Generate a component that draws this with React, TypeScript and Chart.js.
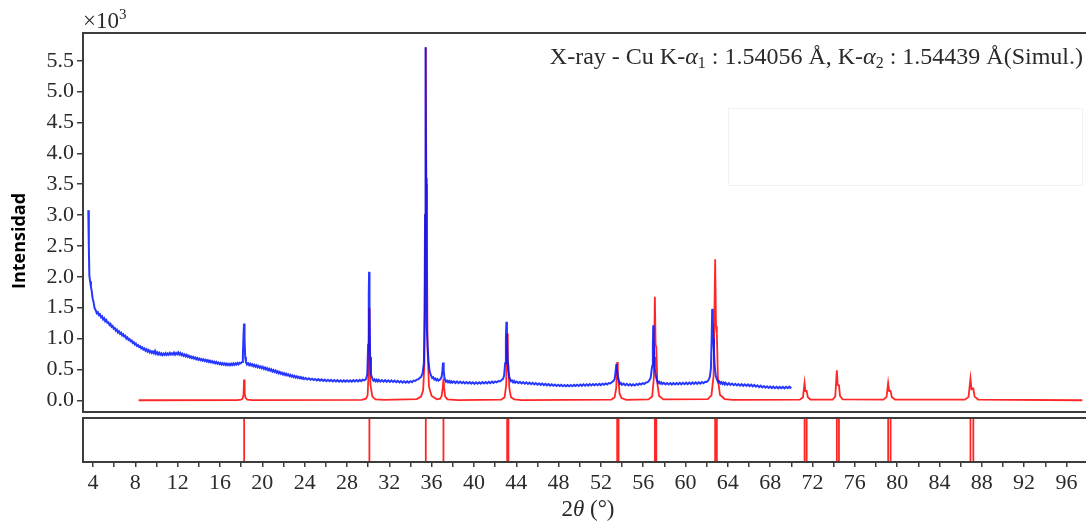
import React, { useEffect, useRef } from "react";
import { Chart, registerables } from "chart.js";

Chart.register(...registerables);

// ---------- axis ranges & ticks ----------
const X_MIN = 3.05;
const X_MAX = 97.85;
const Y_MIN = -190;
const Y_MAX = 5950;
const yTickValues = [0, 500, 1000, 1500, 2000, 2500, 3000, 3500, 4000, 4500, 5000, 5500];
const xTickValues = [4, 6, 8, 10, 12, 14, 16, 18, 20, 22, 24, 26, 28, 30, 32, 34, 36, 38, 40, 42, 44, 46, 48, 50, 52, 54, 56, 58, 60, 62, 64, 66, 68, 70, 72, 74, 76, 78, 80, 82, 84, 86, 88, 90, 92, 94, 96];
const xLabelEvery = 4;

// ---------- measured pattern (2θ, counts) ----------
const observedPattern: [number, number][] = [
  [3.55, 3080], [3.6, 2500], [3.65, 2020], [3.72, 1930], [3.8, 1840], [3.88, 1760], [3.96, 1650], [4.05, 1590],
  [4.15, 1490], [4.25, 1460], [4.35, 1410], [4.45, 1425], [4.55, 1380], [4.65, 1395], [4.75, 1345], [4.85, 1360],
  [4.95, 1310], [5.05, 1330], [5.15, 1280], [5.25, 1300], [5.35, 1255], [5.45, 1262], [5.55, 1220], [5.65, 1238],
  [5.75, 1190], [5.85, 1205], [5.95, 1160], [6.05, 1172], [6.15, 1128], [6.25, 1146], [6.35, 1100], [6.45, 1118],
  [6.55, 1078], [6.65, 1095], [6.75, 1052], [6.85, 1070], [6.95, 1030], [7.05, 1045], [7.15, 1000], [7.25, 1018],
  [7.35, 978], [7.45, 992], [7.55, 955], [7.65, 968], [7.75, 928], [7.85, 942], [7.95, 902], [8.05, 918],
  [8.15, 880], [8.25, 895], [8.35, 862], [8.45, 876], [8.55, 842], [8.65, 858], [8.75, 822], [8.85, 840],
  [8.95, 805], [9.05, 826], [9.15, 790], [9.25, 812], [9.35, 776], [9.45, 798], [9.55, 768], [9.65, 790],
  [9.75, 760], [9.85, 800], [9.95, 752], [10.05, 778], [10.15, 742], [10.25, 770], [10.35, 738], [10.45, 760],
  [10.55, 732], [10.65, 756], [10.75, 736], [10.85, 762], [10.95, 734], [11.05, 760], [11.15, 738], [11.25, 768],
  [11.35, 740], [11.45, 762], [11.55, 742], [11.65, 772], [11.75, 738], [11.85, 766], [11.95, 745], [12.05, 775],
  [12.15, 740], [12.25, 765], [12.35, 730], [12.45, 752], [12.55, 722], [12.65, 742], [12.75, 712], [12.85, 736],
  [12.95, 704], [13.05, 722], [13.15, 692], [13.25, 712], [13.35, 684], [13.45, 702], [13.55, 674], [13.65, 694],
  [13.75, 664], [13.85, 686], [13.95, 656], [14.05, 676], [14.15, 650], [14.25, 668], [14.35, 642], [14.45, 662],
  [14.55, 636], [14.65, 654], [14.75, 628], [14.85, 648], [14.95, 620], [15.05, 642], [15.15, 614], [15.25, 634],
  [15.35, 606], [15.45, 626], [15.55, 600], [15.65, 620], [15.75, 594], [15.85, 612], [15.95, 586], [16.05, 606],
  [16.15, 580], [16.25, 600], [16.35, 576], [16.45, 596], [16.55, 572], [16.65, 594], [16.75, 570], [16.85, 590],
  [16.95, 568], [17.05, 592], [17.15, 570], [17.25, 596], [17.35, 574], [17.45, 598], [17.55, 578], [17.65, 604],
  [17.75, 582], [17.85, 606], [17.95, 598], [18.08, 620], [18.16, 720], [18.22, 1050], [18.27, 1245], [18.32, 980],
  [18.38, 700], [18.45, 620], [18.55, 580], [18.65, 600], [18.75, 570], [18.85, 592], [18.95, 562], [19.05, 584],
  [19.15, 552], [19.25, 574], [19.35, 544], [19.45, 566], [19.55, 536], [19.65, 556], [19.75, 526], [19.85, 548],
  [19.95, 518], [20.05, 540], [20.15, 508], [20.25, 530], [20.35, 498], [20.45, 520], [20.55, 488], [20.65, 510],
  [20.75, 478], [20.85, 500], [20.95, 468], [21.05, 490], [21.15, 458], [21.25, 480], [21.35, 448], [21.45, 470],
  [21.55, 438], [21.65, 458], [21.75, 428], [21.85, 448], [21.95, 418], [22.05, 438], [22.15, 410], [22.25, 430],
  [22.35, 402], [22.45, 420], [22.55, 392], [22.65, 412], [22.75, 384], [22.85, 404], [22.95, 376], [23.05, 396],
  [23.15, 368], [23.25, 388], [23.35, 362], [23.45, 380], [23.55, 356], [23.65, 374], [23.75, 350], [23.85, 368],
  [23.95, 344], [24.1, 362], [24.25, 338], [24.4, 356], [24.55, 332], [24.7, 350], [24.85, 328], [25.0, 346],
  [25.15, 322], [25.3, 342], [25.45, 318], [25.6, 338], [25.75, 314], [25.9, 334], [26.05, 310], [26.2, 332],
  [26.35, 308], [26.5, 330], [26.65, 306], [26.8, 328], [26.95, 304], [27.1, 326], [27.25, 302], [27.4, 324],
  [27.55, 300], [27.7, 322], [27.85, 302], [28.0, 324], [28.15, 300], [28.3, 322], [28.45, 302], [28.6, 326],
  [28.75, 304], [28.9, 328], [29.05, 306], [29.2, 330], [29.35, 310], [29.5, 334], [29.65, 322], [29.8, 345],
  [29.92, 420], [30.0, 900], [30.06, 1700], [30.09, 2080], [30.13, 1500], [30.19, 700], [30.27, 420], [30.4, 350],
  [30.5, 318], [30.6, 338], [30.7, 310], [30.8, 332], [30.9, 306], [31.0, 330], [31.15, 304], [31.3, 328],
  [31.45, 302], [31.6, 326], [31.75, 300], [31.9, 324], [32.05, 298], [32.2, 322], [32.35, 296], [32.5, 318],
  [32.65, 292], [32.8, 314], [32.95, 288], [33.1, 310], [33.25, 286], [33.4, 308], [33.55, 284], [33.7, 306],
  [33.85, 286], [34.0, 310], [34.15, 294], [34.3, 318], [34.45, 312], [34.6, 335], [34.75, 340], [34.9, 365],
  [35.0, 380], [35.15, 440], [35.27, 600], [35.34, 1400], [35.38, 3000], [35.41, 5000], [35.43, 5720], [35.45, 5300],
  [35.48, 3500], [35.51, 2200], [35.56, 1200], [35.62, 880], [35.7, 650], [35.8, 480], [35.92, 410], [36.05, 360],
  [36.15, 372], [36.25, 338], [36.35, 352], [36.45, 322], [36.55, 342], [36.65, 318], [36.8, 335], [36.95, 380],
  [37.02, 480], [37.08, 610], [37.14, 480], [37.22, 360], [37.35, 300], [37.45, 318], [37.55, 292], [37.65, 314],
  [37.75, 288], [37.85, 310], [37.95, 284], [38.1, 306], [38.25, 280], [38.4, 304], [38.55, 278], [38.7, 302],
  [38.85, 276], [39.0, 298], [39.15, 274], [39.3, 296], [39.45, 272], [39.6, 294], [39.75, 270], [39.9, 292],
  [40.05, 266], [40.2, 290], [40.35, 268], [40.5, 292], [40.65, 270], [40.8, 294], [40.95, 272], [41.1, 296],
  [41.25, 274], [41.4, 298], [41.55, 278], [41.7, 302], [41.85, 282], [42.0, 306], [42.15, 290], [42.3, 312],
  [42.45, 304], [42.6, 325], [42.75, 345], [42.85, 400], [42.95, 600], [43.02, 1000], [43.07, 1270], [43.12, 1050],
  [43.18, 700], [43.25, 480], [43.35, 370], [43.5, 310], [43.6, 322], [43.7, 292], [43.8, 312], [43.9, 284],
  [44.05, 304], [44.2, 278], [44.35, 298], [44.5, 272], [44.65, 294], [44.8, 268], [44.95, 290], [45.1, 264],
  [45.25, 286], [45.4, 260], [45.55, 282], [45.7, 256], [45.85, 278], [46.0, 252], [46.15, 274], [46.3, 250],
  [46.45, 270], [46.6, 246], [46.75, 266], [46.9, 242], [47.05, 262], [47.2, 238], [47.35, 258], [47.5, 236],
  [47.65, 254], [47.8, 232], [47.95, 252], [48.1, 230], [48.25, 250], [48.4, 228], [48.55, 248], [48.7, 226],
  [48.85, 246], [49.0, 226], [49.15, 248], [49.3, 228], [49.45, 250], [49.6, 230], [49.75, 252], [49.9, 232],
  [50.05, 256], [50.2, 234], [50.35, 258], [50.5, 236], [50.65, 260], [50.8, 238], [50.95, 262], [51.1, 240],
  [51.25, 262], [51.4, 242], [51.55, 264], [51.7, 244], [51.85, 266], [52.0, 246], [52.15, 268], [52.3, 250],
  [52.45, 272], [52.6, 256], [52.75, 278], [52.9, 272], [53.05, 295], [53.2, 315], [53.3, 345], [53.36, 420],
  [53.43, 540], [53.47, 590], [53.52, 520], [53.6, 400], [53.7, 310], [53.8, 262], [53.9, 278], [54.0, 250],
  [54.15, 270], [54.3, 244], [54.45, 266], [54.6, 240], [54.75, 262], [54.9, 238], [55.05, 260], [55.2, 240],
  [55.35, 264], [55.5, 246], [55.65, 270], [55.8, 254], [55.95, 278], [56.1, 264], [56.25, 288], [56.4, 290],
  [56.55, 315], [56.7, 360], [56.8, 500], [56.86, 560], [56.91, 900], [56.95, 1215], [56.99, 1000], [57.04, 700],
  [57.1, 500], [57.18, 400], [57.3, 320], [57.4, 282], [57.5, 300], [57.6, 270], [57.7, 290], [57.8, 262],
  [57.95, 284], [58.1, 258], [58.25, 280], [58.4, 256], [58.55, 278], [58.7, 254], [58.85, 278], [59.0, 256],
  [59.15, 280], [59.3, 258], [59.45, 282], [59.6, 258], [59.75, 282], [59.9, 260], [60.05, 284], [60.2, 260],
  [60.35, 286], [60.5, 262], [60.65, 288], [60.8, 264], [60.95, 290], [61.1, 266], [61.25, 292], [61.4, 270],
  [61.55, 296], [61.7, 276], [61.85, 300], [62.0, 296], [62.15, 320], [62.3, 380], [62.4, 520], [62.47, 1000],
  [62.52, 1480], [62.57, 1300], [62.62, 1000], [62.68, 820], [62.75, 560], [62.85, 400], [62.98, 330], [63.1, 290],
  [63.2, 305], [63.3, 272], [63.4, 292], [63.5, 264], [63.6, 286], [63.7, 258], [63.8, 282], [63.95, 252],
  [64.1, 276], [64.25, 248], [64.4, 270], [64.55, 244], [64.7, 266], [64.85, 240], [65.0, 262], [65.15, 236],
  [65.3, 260], [65.45, 234], [65.6, 258], [65.75, 232], [65.9, 256], [66.05, 230], [66.2, 252], [66.35, 226],
  [66.5, 248], [66.65, 220], [66.8, 242], [66.95, 214], [67.1, 236], [67.25, 208], [67.4, 230], [67.55, 204],
  [67.7, 226], [67.85, 200], [68.0, 222], [68.15, 198], [68.3, 220], [68.45, 196], [68.6, 218], [68.75, 194],
  [68.9, 216], [69.05, 194], [69.2, 216], [69.35, 194], [69.5, 218], [69.65, 196], [69.8, 220], [69.9, 200],
  [70.0, 214],
];

// ---------- simulated pattern (2θ, counts) ----------
const simulatedPattern: [number, number][] = [
  [8.3, 0], [17.6, 2], [18.0, 10], [18.14, 30], [18.22, 90], [18.27, 335], [18.33, 110], [18.42, 35], [18.58, 12], [19.0, 4],
  [29.4, 6], [29.8, 25], [29.95, 80], [30.03, 400], [30.09, 1500], [30.14, 800], [30.22, 250], [30.4, 60], [30.7, 15], [31.5, 5],
  [34.6, 20], [35.0, 60], [35.2, 160], [35.32, 600], [35.4, 3000], [35.45, 5720], [35.5, 3600], [35.55, 2800], [35.62, 800], [35.75, 220], [36.0, 70], [36.5, 15],
  [36.8, 25], [36.95, 70], [37.05, 200], [37.12, 350], [37.18, 200], [37.28, 60], [37.5, 15], [38.5, 3],
  [42.6, 12], [42.9, 50], [43.05, 250], [43.14, 1080], [43.2, 620], [43.26, 560], [43.34, 200], [43.5, 50], [43.8, 15], [44.5, 3],
  [53.0, 12], [53.3, 50], [53.45, 200], [53.54, 620], [53.6, 370], [53.67, 320], [53.76, 110], [53.95, 35], [54.4, 8],
  [56.5, 15], [56.85, 60], [57.0, 350], [57.1, 1675], [57.17, 900], [57.24, 860], [57.33, 280], [57.5, 70], [57.9, 15],
  [62.1, 18], [62.45, 80], [62.65, 400], [62.8, 2285], [62.88, 1200], [62.96, 1080], [63.06, 350], [63.25, 90], [63.7, 20], [64.5, 5],
  [70.8, 10], [71.1, 50], [71.25, 281], [71.33, 150], [71.45, 151], [71.56, 50], [71.8, 12],
  [73.9, 10], [74.15, 60], [74.3, 486], [74.38, 250], [74.5, 243], [74.6, 70], [74.85, 15],
  [78.7, 10], [79.0, 55], [79.15, 281], [79.25, 150], [79.38, 151], [79.5, 50], [79.8, 12],
  [86.4, 10], [86.75, 55], [86.93, 351], [87.03, 180], [87.2, 190], [87.32, 60], [87.65, 12],
  [97.5, 0],
];

// ---------- reflection positions (lower panel) ----------
const stickPositions = [
  18.28, 30.12, 35.45, 37.12, 43.14, 43.26, 53.54, 53.67, 57.1, 57.24,
  62.8, 62.96, 71.25, 71.45, 74.3, 74.5, 79.15, 79.38, 86.93, 87.2,
];

const BLUE = "rgba(0, 20, 255, 0.85)";
const RED = "rgba(255, 0, 0, 0.85)";
const FRAME = "#3c3c3c";
const TEXT = "#2a2a2a";
const SERIF = "'Liberation Serif', 'DejaVu Serif', serif";

type Seg = { text: string; size: number; italic?: boolean; dy?: number };

function drawSegments(ctx: CanvasRenderingContext2D, segs: Seg[], x: number, y: number, align: "left" | "right" | "center") {
  const fontOf = (s: Seg) => `${s.italic ? "italic " : ""}${s.size}px ${SERIF}`;
  const widths = segs.map((s) => {
    ctx.font = fontOf(s);
    return ctx.measureText(s.text).width;
  });
  const total = widths.reduce((a, b) => a + b, 0);
  let cx = align === "left" ? x : align === "right" ? x - total : x - total / 2;
  ctx.textAlign = "left";
  ctx.textBaseline = "alphabetic";
  segs.forEach((s, i) => {
    ctx.font = fontOf(s);
    ctx.fillText(s.text, cx, y + (s.dy || 0));
    cx += widths[i];
  });
}

function frame(ctx: CanvasRenderingContext2D, a: { left: number; top: number; right: number; bottom: number }) {
  ctx.save();
  ctx.strokeStyle = FRAME;
  ctx.lineWidth = 2;
  ctx.beginPath();
  ctx.moveTo(a.right, a.top);
  ctx.lineTo(a.left, a.top);
  ctx.lineTo(a.left, a.bottom);
  ctx.lineTo(a.right, a.bottom);
  ctx.stroke();
  ctx.restore();
}

const mainDecor = {
  id: "mainDecor",
  afterDraw(chart: any) {
    const ctx: CanvasRenderingContext2D = chart.ctx;
    const a = chart.chartArea;
    frame(ctx, a);
    ctx.save();
    ctx.fillStyle = TEXT;
    // multiplier
    drawSegments(ctx, [
      { text: "×10", size: 23 },
      { text: "3", size: 15, dy: -9 },
    ], a.left, 28, "left");
    // annotation
    drawSegments(ctx, [
      { text: "X-ray - Cu K-", size: 24 },
      { text: "α", size: 24, italic: true },
      { text: "1", size: 16, dy: 4 },
      { text: " : 1.54056 Å, K-", size: 24 },
      { text: "α", size: 24, italic: true },
      { text: "2", size: 16, dy: 4 },
      { text: " : 1.54439 Å(Simul.)", size: 24 },
    ], 1083, 64, "right");
    // faint empty legend box
    ctx.strokeStyle = "rgba(0,0,0,0.05)";
    ctx.lineWidth = 1;
    ctx.strokeRect(728.5, 108.5, 354, 77);
    // y title
    ctx.fillStyle = "#000";
    ctx.translate(25, 241);
    ctx.rotate(-Math.PI / 2);
    ctx.font = `bold 18px 'Open Sans', 'Liberation Sans', sans-serif`;
    ctx.textAlign = "center";
    ctx.textBaseline = "alphabetic";
    ctx.fillText("Intensidad", 0, 0);
    ctx.restore();
  },
};

const lowerDecor = {
  id: "lowerDecor",
  afterDraw(chart: any) {
    const ctx: CanvasRenderingContext2D = chart.ctx;
    const a = chart.chartArea;
    frame(ctx, a);
    ctx.save();
    ctx.fillStyle = TEXT;
    drawSegments(ctx, [
      { text: "2", size: 23 },
      { text: "θ", size: 23, italic: true },
      { text: " (°)", size: 23 },
    ], 588, 101, "center");
    ctx.restore();
  },
};

export default function App() {
  const mainRef = useRef<HTMLCanvasElement>(null);
  const lowerRef = useRef<HTMLCanvasElement>(null);

  useEffect(() => {
    const tickFont = { family: SERIF, size: 22 };
    const gridCfg = { drawOnChartArea: false, drawTicks: true, color: FRAME, lineWidth: 1.5 };

    const main = new Chart(mainRef.current as HTMLCanvasElement, {
      type: "line",
      data: {
        datasets: [
          {
            data: observedPattern.map(([x, y]) => ({ x, y })),
            borderColor: BLUE,
            borderWidth: 2,
            pointRadius: 0,
            tension: 0,
          },
          {
            data: simulatedPattern.map(([x, y]) => ({ x, y })),
            borderColor: RED,
            borderWidth: 1.8,
            pointRadius: 0,
            tension: 0,
          },
        ],
      },
      options: {
        responsive: false,
        animation: false,
        events: [],
        layout: { padding: { top: 33, bottom: 3, left: 0, right: 0 } },
        plugins: { legend: { display: false }, tooltip: { enabled: false } },
        scales: {
          x: { type: "linear", min: X_MIN, max: X_MAX, display: false },
          y: {
            type: "linear",
            min: Y_MIN,
            max: Y_MAX,
            afterBuildTicks: (s: any) => {
              s.ticks = yTickValues.map((v) => ({ value: v }));
            },
            afterFit: (s: any) => {
              s.width = 83;
              s.paddingTop = 0;
              s.paddingBottom = 0;
            },
            grid: { ...gridCfg, tickLength: 6 },
            border: { display: false },
            ticks: {
              font: tickFont,
              color: TEXT,
              padding: 3,
              callback: (v: any) => (Number(v) / 1000).toFixed(1),
            },
          },
        },
      } as any,
      plugins: [mainDecor],
    });

    const stickData = stickPositions.flatMap((p) => [
      { x: p, y: 0 },
      { x: p, y: 1 },
      { x: p, y: null },
    ]);

    const lower = new Chart(lowerRef.current as HTMLCanvasElement, {
      type: "line",
      data: {
        datasets: [
          {
            data: stickData as any,
            borderColor: RED,
            borderWidth: 1.8,
            pointRadius: 0,
            spanGaps: false,
          },
        ],
      },
      options: {
        responsive: false,
        animation: false,
        events: [],
        layout: { padding: { top: 3, bottom: 0, left: 83, right: 0 } },
        plugins: { legend: { display: false }, tooltip: { enabled: false } },
        scales: {
          x: {
            type: "linear",
            min: X_MIN,
            max: X_MAX,
            afterBuildTicks: (s: any) => {
              s.ticks = xTickValues.map((v) => ({ value: v }));
            },
            afterFit: (s: any) => {
              s.height = 61;
              s.paddingLeft = 0;
              s.paddingRight = 0;
            },
            grid: { ...gridCfg, tickLength: 5 },
            border: { display: false },
            ticks: {
              autoSkip: false,
              maxRotation: 0,
              minRotation: 0,
              padding: 3,
              font: tickFont,
              color: TEXT,
              callback: (v: any) => (Number(v) % xLabelEvery === 0 ? String(v) : ""),
            },
          },
          y: { type: "linear", min: 0, max: 1, display: false },
        },
      } as any,
      plugins: [lowerDecor],
    });

    return () => {
      main.destroy();
      lower.destroy();
    };
  }, []);

  return (
    <div style={{ position: "fixed", left: 0, top: 0, width: 1086, height: 523, background: "#fff", overflow: "hidden" }}>
      <canvas ref={mainRef} width={1086} height={415} style={{ position: "absolute", left: 0, top: 0 }} />
      <canvas ref={lowerRef} width={1086} height={108} style={{ position: "absolute", left: 0, top: 415 }} />
    </div>
  );
}
